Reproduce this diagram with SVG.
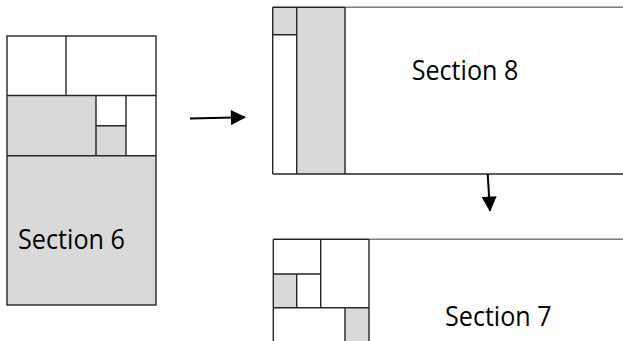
<svg xmlns="http://www.w3.org/2000/svg" width="623" height="341" viewBox="0 0 623 341">
<style>
.g{fill:#d9d9d9}
.w{fill:#ffffff}
.l{stroke:#262626;stroke-width:1.4;fill:none}
.lt{stroke:#7f7f7f;stroke-width:1.4;fill:none}
.t{font-family:"Open Sans","Liberation Sans",sans-serif;font-size:27px;fill:#000}
.c{stroke:#000;stroke-width:2;fill:none}
</style>
<defs>
<marker id="ah2" viewBox="0 0 16 16" refX="15" refY="8" markerWidth="16" markerHeight="15" orient="auto" markerUnits="userSpaceOnUse">
<path d="M0,0 L16,8 L0,16 Z" fill="#000"/>
</marker>
</defs>
<rect width="623" height="341" fill="#fff"/>
<g id="section6">
<rect class="w" x="7" y="36" width="149" height="269"/>
<rect class="g" x="7" y="95.5" width="89" height="60"/>
<rect class="g" x="96" y="125.7" width="30" height="30"/>
<rect class="g" x="7" y="155.7" width="149" height="149.3"/>
<rect class="l" x="7" y="36" width="149" height="269"/>
<path class="l" d="M7,95.5H156 M7,155.7H156 M66,36V95.5 M96,95.5V155.7 M126,95.5V155.7 M96,125.7H126"/>
<text class="t" x="18" y="249.3" textLength="107" lengthAdjust="spacingAndGlyphs">Section 6</text>
</g>
<g id="section8">
<rect class="w" x="272.7" y="7.3" width="350.3" height="166.7"/>
<rect class="g" x="272.7" y="7.3" width="24" height="27.4"/>
<rect class="g" x="296.7" y="7.3" width="48.3" height="166.7"/>
<path class="lt" d="M345,7.3H623"/>
<path class="l" d="M272.7,7.3H345 M272.7,7.3V174 M272.7,174H623 M296.7,7.3V174 M345,7.3V174 M272.7,34.7H296.7"/>
<text class="t" x="411.7" y="80" textLength="106.6" lengthAdjust="spacingAndGlyphs">Section 8</text>
</g>
<g id="section7">
<rect class="w" x="273.3" y="239.3" width="349.7" height="101.7"/>
<rect class="g" x="273.3" y="274" width="23.4" height="33.7"/>
<rect class="g" x="345" y="307.7" width="24" height="33.3"/>
<path class="lt" d="M369,239.3H623"/>
<path class="l" d="M273.3,239.3H369 M273.3,239.3V341 M320.7,239.3V307.7 M369,239.3V341 M273.3,274H320.7 M273.3,307.7H369 M296.7,274V307.7 M345,307.7V341"/>
<text class="t" x="445" y="325.7" textLength="106.6" lengthAdjust="spacingAndGlyphs">Section 7</text>
</g>
<g id="connectors">
<line class="c" x1="190" y1="118.5" x2="245" y2="117.3" marker-end="url(#ah2)"/>
<line class="c" x1="487.7" y1="174" x2="490" y2="210.7" marker-end="url(#ah2)"/>
</g>
</svg>
